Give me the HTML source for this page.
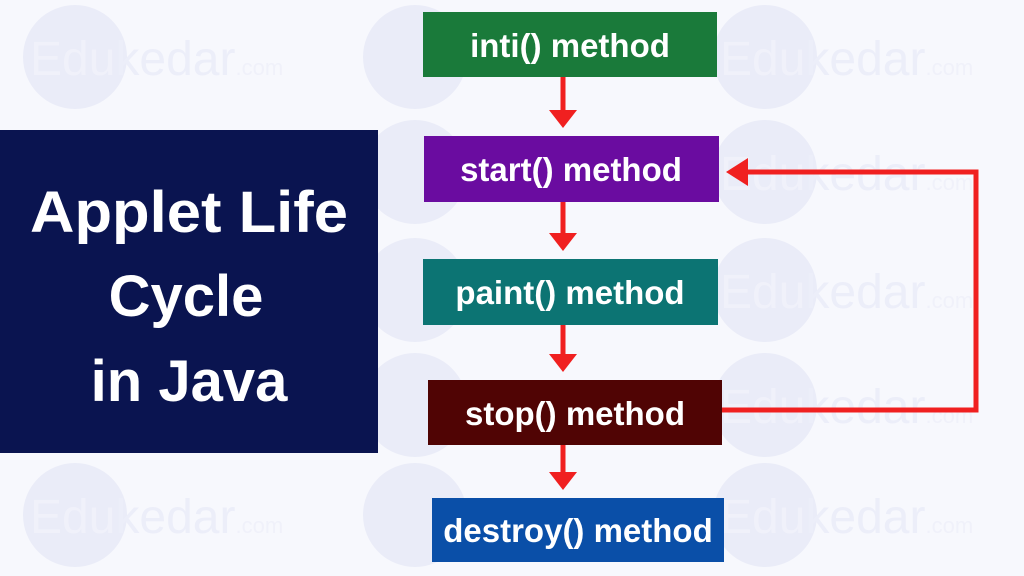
<!DOCTYPE html>
<html><head><style>
html,body{margin:0;padding:0;background:#f7f8fd;}
svg{display:block;}
</style></head><body>
<svg width="1024" height="576" viewBox="0 0 1024 576" xmlns="http://www.w3.org/2000/svg" font-family="Liberation Sans, sans-serif">
<rect width="1024" height="576" fill="#f7f8fd"/>
<g fill="#eaecf8">
<circle cx="75" cy="57" r="52"/><circle cx="415" cy="57" r="52"/><circle cx="765" cy="57" r="52"/>
<circle cx="415" cy="172" r="52"/><circle cx="765" cy="172" r="52"/>
<circle cx="415" cy="290" r="52"/><circle cx="765" cy="290" r="52"/>
<circle cx="415" cy="405" r="52"/><circle cx="765" cy="405" r="52"/>
<circle cx="75" cy="515" r="52"/><circle cx="415" cy="515" r="52"/><circle cx="765" cy="515" r="52"/>
</g>
<g fill="#f0f1fa" font-size="48">
<text x="30" y="75">Edu<tspan fill="#eceef9">kedar</tspan><tspan font-size="22">.com</tspan></text>
<text x="720" y="75">Edu<tspan fill="#eceef9">kedar</tspan><tspan font-size="22">.com</tspan></text>
<text x="720" y="190">Edu<tspan fill="#eceef9">kedar</tspan><tspan font-size="22">.com</tspan></text>
<text x="720" y="308">Edu<tspan fill="#eceef9">kedar</tspan><tspan font-size="22">.com</tspan></text>
<text x="720" y="423">Edu<tspan fill="#eceef9">kedar</tspan><tspan font-size="22">.com</tspan></text>
<text x="30" y="533">Edu<tspan fill="#eceef9">kedar</tspan><tspan font-size="22">.com</tspan></text>
<text x="720" y="533">Edu<tspan fill="#eceef9">kedar</tspan><tspan font-size="22">.com</tspan></text>
</g>
<rect x="0" y="130" width="378" height="323" fill="#0a1450"/>
<g fill="#fff" font-weight="bold" font-size="58" text-anchor="middle">
<text x="189" y="232" textLength="318" lengthAdjust="spacingAndGlyphs">Applet Life</text>
<text x="186" y="316">Cycle</text>
<text x="189" y="401">in Java</text>
</g>
<g stroke="#f02020" stroke-width="5" fill="none">
<line x1="563" y1="77" x2="563" y2="112"/>
<line x1="563" y1="202" x2="563" y2="235"/>
<line x1="563" y1="325" x2="563" y2="356"/>
<line x1="563" y1="445" x2="563" y2="474"/>
<polyline points="718,410 976,410 976,172 745,172"/>
</g>
<g fill="#f02020">
<polygon points="549,110 577,110 563,128"/>
<polygon points="549,233 577,233 563,251"/>
<polygon points="549,354 577,354 563,372"/>
<polygon points="549,472 577,472 563,490"/>
<polygon points="748,158 748,186 726,172"/>
</g>
<rect x="423" y="12" width="294" height="65" fill="#1a7a3a"/>
<rect x="424" y="136" width="295" height="66" fill="#6a0ca0"/>
<rect x="423" y="259" width="295" height="66" fill="#0c7473"/>
<rect x="428" y="380" width="294" height="65" fill="#500404"/>
<rect x="432" y="498" width="292" height="64" fill="#0a4fa8"/>
<g fill="#fff" font-weight="bold" font-size="33" text-anchor="middle">
<text x="570" y="57">inti() method</text>
<text x="571" y="181">start() method</text>
<text x="570" y="304">paint() method</text>
<text x="575" y="425">stop() method</text>
<text x="578" y="542">destroy() method</text>
</g>
</svg>
</body></html>
